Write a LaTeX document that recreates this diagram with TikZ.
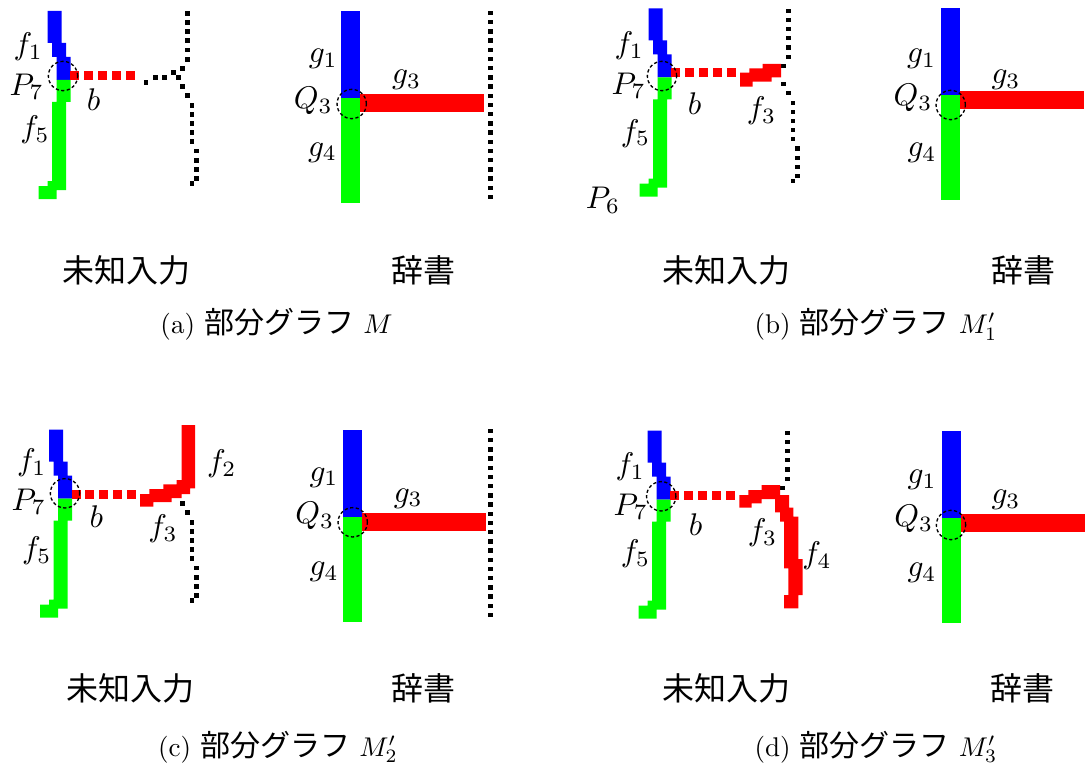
\documentclass[tikz,border=0pt]{standalone}
\usepackage{fontspec}
\newfontfamily\jp{Noto Sans CJK JP}
\newfontfamily\jpcap{Noto Sans CJK JP}[Scale=1.11]
\tikzset{
 lbl/.style={inner sep=0pt, font=\fontsize{10}{12}\selectfont, scale=2.35, transform shape},
 cjk/.style={inner sep=0pt, font=\fontsize{24}{28}\selectfont\jp},
 captext/.style={inner sep=0pt, anchor=base, font=\fontsize{10}{12}\selectfont, scale=2.03, transform shape},
 joint/.style={circle, draw=black, line width=1pt, dash pattern=on 2.4pt off 1.8pt, minimum size=22pt, inner sep=0pt},
}
\newcommand\inputgraph{%
 \fill[blue] (47.5,11) rectangle (61.5,43) (52,43) rectangle (66,57) (56.5,57) rectangle (70.5,80);
 \fill[green] (56.5,80) rectangle (70.5,102) (52,102) rectangle (66,190) (47.5,181) rectangle (61.5,190) (38.5,186) rectangle (56.5,199);
 \foreach \a in {70,83.5,97.5,111.5,125.5} \fill[red] (\a,71) rectangle (\a+9,80);
}
\newcommand\dictgraph{%
 \fill[blue] (341,11) rectangle (360,98);
 \fill[green] (341,98) rectangle (360,203);
 \fill[red] (360,94) rectangle (484,112);
}
\newcommand\dictdots{%
 \foreach \k in {0,...,20} \fill (490.3-2.25,13+9.2*\k-2.25) rectangle +(4.5,4.5);
}
\newcommand\upperdots{%
 \foreach \x/\y in {187.3/13.3,187.3/22.3,187.3/31.3,187.3/40.7,187.3/50,187.3/59.3,182.7/68.3}
  \fill (\x-2.25,\y-2.25) rectangle +(4.5,4.5);
}
\newcommand\leftdots{%
 \foreach \x/\y in {173.3/72.7,178.3/77.3,164.3/77.3,155.3/77.3,146/82.3}
  \fill (\x-2.25,\y-2.25) rectangle +(4.5,4.5);
}
\newcommand\lowerdots{%
 \foreach \x/\y in {182.7/86.7,187.3/95.7,192/105.3,192/114.3,192/123.3,192/132.7,192/141.7,196.7/151,196.7/160.3,196.7/169.3,196.7/178.7,192/183.3}
  \fill (\x-2.25,\y-2.25) rectangle +(4.5,4.5);
}
\begin{document}
\begin{tikzpicture}[x=0.75pt,y=-0.75pt]
\useasboundingbox (0,0) rectangle (1085,767);
% ---------------- (a)
\inputgraph
\upperdots \leftdots \lowerdots
\dictgraph
\dictdots
\node[joint] (ca) at (63,76) {};
\node[joint] (qa) at (351.7,104) {};
\node[lbl] (fa1) at (28.3,46.7) {$f_1$};
\node[lbl] (pa7) at (26.7,86.7) {$P_7$};
\node[lbl] (ba) at (93.7,100) {$b$};
\node[lbl] (fa5) at (35,130) {$f_5$};
\node[lbl] (ga1) at (323.3,59) {$g_1$};
\node[lbl] (ga3) at (406.7,80) {$g_3$};
\node[lbl] (qa3) at (313.3,100.8) {$Q_3$};
\node[lbl] (ga4) at (322.5,152.5) {$g_4$};
\node[cjk] (ua) at (126,270) {未知入力};
\node[cjk] (da) at (423.5,270) {辞書};
\node[captext] (capa) at (276.5,333.5) {(a) {\jpcap 部分グラフ} $M$};
% ---------------- (b)
\begin{scope}[shift={(601,-2.5)}]
 \inputgraph
 \upperdots \lowerdots
\end{scope}
\begin{scope}[shift={(600,-3)}]
 \dictgraph
\end{scope}
\fill[red] (740,72.7) rectangle (752.7,86.7) (749.3,68.3) rectangle (771.7,81.7) (762.7,64) rectangle (781,77.3);
\node[joint] (cb) at (662,76) {};
\node[joint] (qb) at (950.7,105) {};
\node[lbl] (fb1) at (629.3,45.8) {$f_1$};
\node[lbl] (pb7) at (628.7,85.8) {$P_7$};
\node[lbl] (bb) at (694.5,104) {$b$};
\node[lbl] (fb5) at (635.5,133.3) {$f_5$};
\node[lbl] (fb3) at (761.5,110.8) {$f_3$};
\node[lbl] (pb6) at (603,200) {$P_6$};
\node[lbl] (gb1) at (921.7,59) {$g_1$};
\node[lbl] (gb3) at (1006,80) {$g_3$};
\node[lbl] (qb3) at (913,98.3) {$Q_3$};
\node[lbl] (gb4) at (922,153) {$g_4$};
\node[cjk] (ub) at (726,270) {未知入力};
\node[cjk] (db) at (1023.5,270) {辞書};
\node[captext] (capb) at (876,333.5) {(b) {\jpcap 部分グラフ} $M_1'$};
% ---------------- (c)
\begin{scope}[shift={(1.5,418.5)}]
 \inputgraph
\end{scope}
\begin{scope}[shift={(0,417)}]
 \lowerdots
\end{scope}
\begin{scope}[shift={(2,418.5)}]
 \dictgraph
\end{scope}
\begin{scope}[shift={(0,418)}]
 \dictdots
\end{scope}
\fill[red] (140,494) rectangle (153.3,506.7) (149.3,489) rectangle (171.7,502) (163.3,484.3) rectangle (181.7,498) (176.7,480) rectangle (190,494) (181.7,425) rectangle (195,488.3);
\node[joint] (cc) at (65,493.3) {};
\node[joint] (qc) at (352.7,522.3) {};
\node[lbl] (fc1) at (31.7,462.5) {$f_1$};
\node[lbl] (pc7) at (28.8,501.7) {$P_7$};
\node[lbl] (bc) at (96.3,516.7) {$b$};
\node[lbl] (fc5) at (36.7,550.8) {$f_5$};
\node[lbl] (fc3) at (163,529) {$f_3$};
\node[lbl] (fc2) at (221.7,464) {$f_2$};
\node[lbl] (gc1) at (324,477.5) {$g_1$};
\node[lbl] (gc3) at (408.3,498.3) {$g_3$};
\node[lbl] (qc3) at (314.7,516.3) {$Q_3$};
\node[lbl] (gc4) at (324.2,571.7) {$g_4$};
\node[cjk] (uc) at (130,688) {未知入力};
\node[cjk] (dc) at (423,688) {辞書};
\node[captext] (capc) at (278,756) {(c) {\jpcap 部分グラフ} $M_2'$};
% ---------------- (d)
\begin{scope}[shift={(600,419.5)}]
 \inputgraph
 \upperdots
\end{scope}
\begin{scope}[shift={(601,419.5)}]
 \dictgraph
\end{scope}
\fill[red] (739.3,495) rectangle (751.7,507.7) (748.3,490) rectangle (761.7,503.3) (761.7,485) rectangle (780,499) (775,495) rectangle (789,512.3) (780,507.7) rectangle (793.3,521.7) (784,516.7) rectangle (798.3,568.3) (788.3,559) rectangle (802.7,595) (784,595) rectangle (798.3,608.3);
\node[joint] (cd) at (661.2,496.3) {};
\node[joint] (qd) at (951,525) {};
\node[lbl] (fd1) at (630.3,466.7) {$f_1$};
\node[lbl] (pd7) at (630.8,506.7) {$P_7$};
\node[lbl] (bd) at (695.5,525) {$b$};
\node[lbl] (fd5) at (635.5,554) {$f_5$};
\node[lbl] (fd3) at (762.5,532.5) {$f_3$};
\node[lbl] (fd4) at (817,555.8) {$f_4$};
\node[lbl] (gd1) at (922.2,480) {$g_1$};
\node[lbl] (gd3) at (1006,500) {$g_3$};
\node[lbl] (qd3) at (913.7,518.8) {$Q_3$};
\node[lbl] (gd4) at (922,573) {$g_4$};
\node[cjk] (ud) at (726.5,688) {未知入力};
\node[cjk] (dd) at (1022.5,688) {辞書};
\node[captext] (capd) at (876,756) {(d) {\jpcap 部分グラフ} $M_3'$};
\end{tikzpicture}
\end{document}
